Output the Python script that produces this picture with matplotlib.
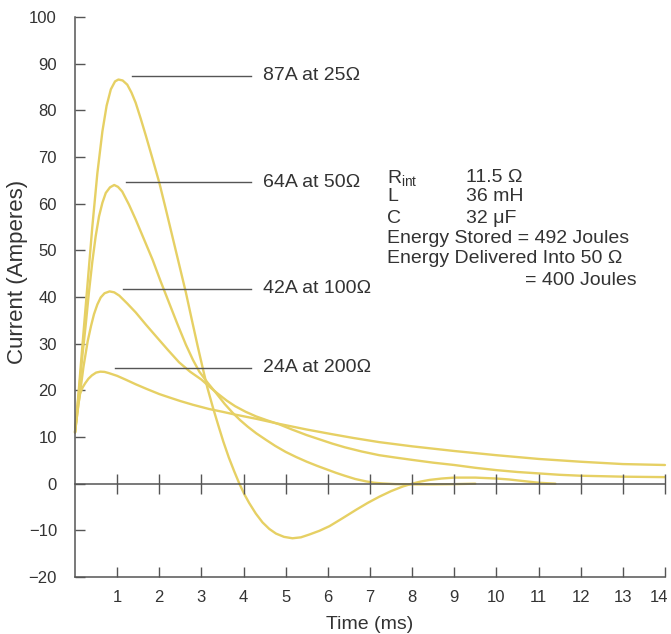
import matplotlib.pyplot as plt
from matplotlib.transforms import ScaledTranslation

plt.rcParams['font.family'] = ['Liberation Sans', 'DejaVu Sans']
plt.rcParams['mathtext.fontset'] = 'custom'
plt.rcParams['mathtext.rm'] = 'Liberation Sans'
plt.rcParams['mathtext.it'] = 'Liberation Sans:italic'

# ---- data (time in ms, current in A) ----
t_25 = [0, 0.08, 0.17, 0.29, 0.41, 0.53, 0.65, 0.75, 0.85, 0.95, 1.03, 1.13, 1.24, 1.34,
        1.44, 1.56, 1.68, 1.84, 2.0, 2.15, 2.31, 2.47, 2.63, 2.77, 2.91, 3.03, 3.14, 3.27,
        3.4, 3.52, 3.65, 3.78, 3.9, 4.02, 4.13, 4.29, 4.45, 4.61, 4.77, 4.96, 5.16, 5.36,
        5.56, 5.8, 6.04, 6.35, 6.67, 6.95, 7.22, 7.5, 7.78, 8.0, 8.2, 8.41, 8.7, 9.0, 9.5,
        10.0, 10.3, 10.6, 11.0, 11.4]
i_25 = [11, 19, 29, 42, 55, 66.5, 75.5, 81, 84.5, 86.2, 86.6, 86.4, 85.5, 83.8,
        81.6, 78.2, 74.6, 69.6, 64.5, 59, 53, 47, 41, 35.2, 29.5, 24.8, 20.6, 16.4,
        12.5, 9, 5.6, 2.6, 0, -2.3, -4.1, -6.4, -8.3, -9.7, -10.7, -11.4, -11.7, -11.5,
        -10.9, -10.1, -9.1, -7.4, -5.6, -4.1, -2.8, -1.6, -0.6, 0, 0.45, 0.8, 1.1, 1.3, 1.3,
        1.1, 0.9, 0.6, 0.2, 0]

t_50 = [0, 0.08, 0.17, 0.25, 0.33, 0.41, 0.49, 0.57, 0.65, 0.73, 0.83, 0.93, 1.02, 1.12,
        1.28, 1.44, 1.64, 1.84, 2.03, 2.23, 2.43, 2.63, 2.8, 2.95, 3.15, 3.35, 3.55, 3.74,
        3.92, 4.1, 4.3, 4.53, 4.75, 5.0, 5.25, 5.5, 5.75, 5.96, 6.2, 6.4, 6.65, 6.9, 7.1,
        7.3, 7.6, 8.0, 8.5, 9.0, 9.5]
i_50 = [11, 18.5, 27, 33.7, 41, 47.5, 53, 57.3, 60.2, 62.3, 63.5, 64, 63.6, 62.6,
        59.8, 56.6, 52.3, 48, 43.4, 38.8, 34.2, 29.8, 26.5, 24, 21.6, 19.4, 17.1, 15.2,
        13.6, 12.2, 10.8, 9.4, 8.1, 6.8, 5.7, 4.7, 3.8, 3.1, 2.3, 1.7, 1.0, 0.5, 0.2,
        0.05, -0.1, -0.15, -0.15, -0.1, 0]

t_100 = [0, 0.08, 0.12, 0.2, 0.3, 0.38, 0.45, 0.53, 0.61, 0.7, 0.82, 0.93, 1.05, 1.24,
         1.44, 1.68, 1.92, 2.2, 2.47, 2.73, 3.0, 3.2, 3.4, 3.6, 3.8, 4.05, 4.3, 4.55, 4.85,
         5.15, 5.5, 5.8, 6.1, 6.4, 6.8, 7.22, 7.6, 8.0, 8.5, 9.0, 9.5, 10.0, 10.5, 11.0,
         11.5, 12.0, 12.5, 13.0, 13.5, 14.0]
i_100 = [11, 17, 19.5, 25, 30.5, 33.8, 36.3, 38.4, 39.9, 40.8, 41.2, 41, 40.3, 38.6,
         36.7, 34.1, 31.6, 28.7, 26, 24, 22.3, 20.7, 19.2, 17.8, 16.6, 15.4, 14.4, 13.6, 12.7,
         11.6, 10.4, 9.5, 8.6, 7.8, 6.9, 6.1, 5.6, 5.1, 4.5, 4.0, 3.4, 2.9, 2.5, 2.2,
         1.9, 1.7, 1.6, 1.5, 1.45, 1.4]

t_200 = [0, 0.08, 0.12, 0.18, 0.24, 0.32, 0.4, 0.5, 0.6, 0.7, 0.8, 1.0, 1.2, 1.44, 1.7,
         2.0, 2.23, 2.5, 2.8, 3.18, 3.5, 3.8, 4.3, 4.85, 5.5, 6.1, 6.6, 7.22, 8.0, 9.0,
         10.0, 11.0, 12.0, 13.0, 14.0]
i_200 = [11, 17, 19.3, 20.6, 21.5, 22.5, 23.2, 23.8, 24, 23.95, 23.7, 23.1, 22.3, 21.3, 20.3,
         19.2, 18.5, 17.7, 16.9, 16.0, 15.4, 14.8, 13.9, 12.8, 11.6, 10.6, 9.8, 8.9, 8.0, 7.0,
         6.1, 5.3, 4.7, 4.2, 4.0]

peak_labels = ["87A at 25\u03a9", "64A at 50\u03a9", "42A at 100\u03a9", "24A at 200\u03a9"]
leader_y = [87.4, 64.6, 41.8, 24.8]
leader_x0 = [1.36, 1.2, 1.14, 0.95]

xticks = list(range(1, 15))
yticks = list(range(-20, 101, 10))
yticks_text = [str(v) if v >= 0 else "\u2212" + str(-v) for v in yticks]

info_rows = [
    ("R$_{\\mathrm{int}}$", "11.5 \u03a9"),
    ("L", "36 mH"),
    ("C", "32 \u03bcF"),
]
energy_rows = ["Energy Stored = 492 Joules", "Energy Delivered Into 50 \u03a9"]
energy_last = "= 400 Joules"

curve_col = "#e6d064"
axis_col = "#555555"
text_col = "#333333"

# ---- plotting ----
fig = plt.figure(figsize=(6.71, 6.34), dpi=100)
ax = fig.add_axes([0.1118, 0.0899, 0.8792, 0.8833])

for t, i in [(t_25, i_25), (t_50, i_50), (t_100, i_100), (t_200, i_200)]:
    ax.plot(t, i, color=curve_col, lw=1.7, solid_capstyle='round', clip_on=False)

ax.set_xlim(0, 14)
ax.set_ylim(-20, 100)
ax.set_xticks(xticks)
ax.set_xticklabels([str(v) for v in xticks])
ax.set_yticks(yticks)
ax.set_yticklabels(yticks_text)

for s in ['top', 'right']:
    ax.spines[s].set_visible(False)
for s in ['left', 'bottom']:
    ax.spines[s].set_color(axis_col)
    ax.spines[s].set_linewidth(1.1)

ax.tick_params(direction='in', length=7, width=1, color=axis_col,
               labelcolor=text_col, labelsize=12)
ax.tick_params(axis='x', pad=9)
ax.tick_params(axis='y', pad=13)

# last x label sits at the figure edge, nudge it in a little
last = ax.get_xticklabels()[-1]
last.set_transform(last.get_transform() + ScaledTranslation(-4 / 72, 0, fig.dpi_scale_trans))

ax.set_xlabel("Time (ms)", fontsize=14, color=text_col, labelpad=8)
ax.text(-0.097, 0.545, "Current (Amperes)", transform=ax.transAxes, rotation=90,
        fontsize=16, color=text_col, ha='center', va='center')

# zero line with crossing ticks
ax0 = ax.twiny()
ax0.set_xlim(0, 14)
for s in ['top', 'left', 'right']:
    ax0.spines[s].set_visible(False)
ax0.spines['bottom'].set_position(('data', 0))
ax0.spines['bottom'].set_color(axis_col)
ax0.spines['bottom'].set_linewidth(1.1)
ax0.xaxis.set_ticks_position('bottom')
ax0.set_xticks(xticks)
ax0.tick_params(axis='x', direction='inout', length=15, width=1, color=axis_col,
                labelbottom=False, labeltop=False)

# peak labels with leader lines
for lab, y, x0 in zip(peak_labels, leader_y, leader_x0):
    ax.plot([x0, 4.17], [y, y], color=axis_col, lw=1)
    ax.text(4.45, y, lab, fontsize=14, color=text_col, va='center', ha='left')

# circuit info block
row_y = [65.6, 61.6, 56.9]
for (a, b), y in zip(info_rows, row_y):
    ax.text(7.41, y, a, fontsize=14, color=text_col, va='center', ha='left')
    ax.text(9.28, y, b, fontsize=14, color=text_col, va='center', ha='left')
for s, y in zip(energy_rows, [52.6, 48.2]):
    ax.text(7.41, y, s, fontsize=14, color=text_col, va='center', ha='left')
ax.text(13.32, 43.6, energy_last, fontsize=14, color=text_col, va='center', ha='right')

fig.savefig("out.png", dpi=100, facecolor='white')
